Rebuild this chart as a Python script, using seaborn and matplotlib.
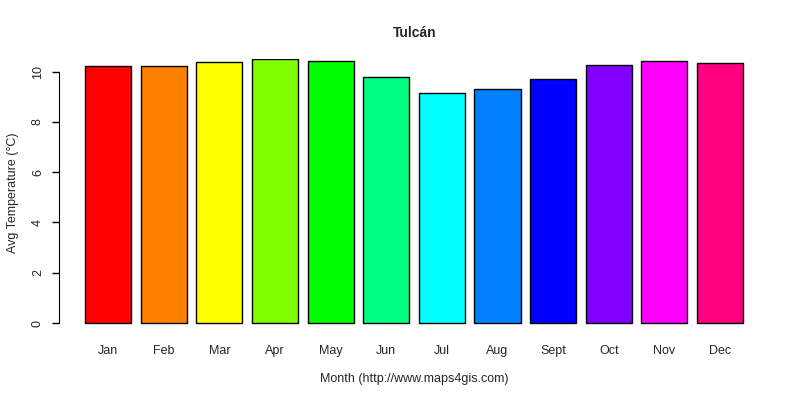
import matplotlib
matplotlib.use("Agg")
import matplotlib.pyplot as plt
import seaborn as sns
import pandas as pd

# Monthly average temperature, Tulcán
months = ['Jan', 'Feb', 'Mar', 'Apr', 'May', 'Jun', 'Jul', 'Aug', 'Sept', 'Oct', 'Nov', 'Dec']
temps = [10.21, 10.21, 10.37, 10.49, 10.41, 9.78, 9.15, 9.30, 9.70, 10.25, 10.41, 10.33]
colors = ['#FF0000', '#FF8000', '#FFFF00', '#80FF00', '#00FF00', '#00FF80',
          '#00FFFF', '#0080FF', '#0000FF', '#8000FF', '#FF00FF', '#FF0080']
yticks = [0, 2, 4, 6, 8, 10]

df = pd.DataFrame({'Month': months, 'Temp': temps})

sns.set_style("white")
plt.rcParams['font.family'] = ['Liberation Sans', 'DejaVu Sans']

fig = plt.figure(figsize=(8, 4), dpi=100)
ax = fig.add_axes([0.074, 0.1835, 0.8885, 0.669])

sns.barplot(data=df, x='Month', y='Temp', hue='Month', palette=colors,
            legend=False, width=0.83, edgecolor='black', linewidth=1,
            saturation=1, ax=ax)

ax.set_xlim(-0.88, 11.9)
ax.set_ylim(-0.14, 10.5)
ax.set_yticks(yticks)
ax.set_yticklabels([str(t) for t in yticks])

for s in ['top', 'right', 'bottom']:
    ax.spines[s].set_visible(False)
ax.spines['left'].set_bounds(0, 10)
ax.spines['left'].set_color('black')

ax.tick_params(axis='y', left=True, length=5, width=1, color='black', pad=6,
               labelsize=9, labelrotation=90)
for lbl in ax.get_yticklabels():
    lbl.set_va('center')
ax.tick_params(axis='x', bottom=False, length=0, pad=13, labelsize=9)

ax.set_title('Tulcán', fontsize=10, fontweight='bold', pad=16)
ax.set_xlabel('Month (http://www.maps4gis.com)', fontsize=9, labelpad=12)
ax.set_ylabel('Avg Temperature (°C)', fontsize=9, labelpad=9)

fig.savefig('out.png', dpi=100)
